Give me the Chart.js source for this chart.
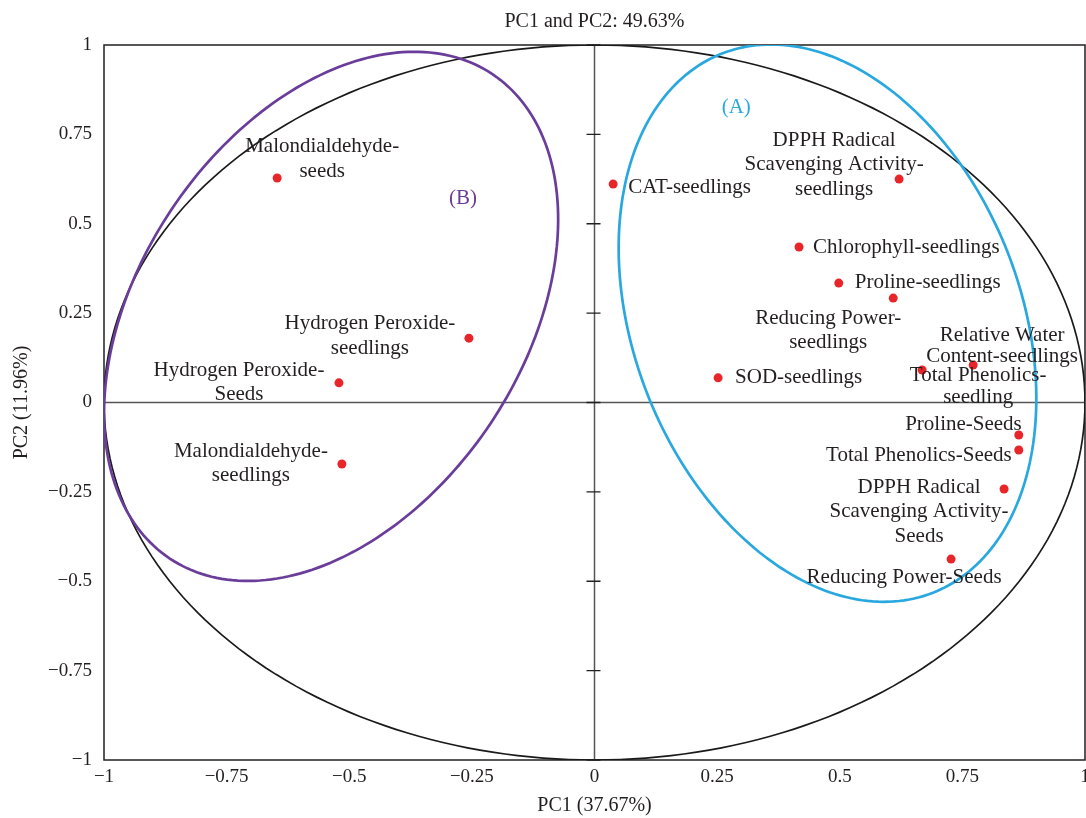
<!DOCTYPE html>
<html>
<head>
<meta charset="utf-8">
<title>PCA loading plot</title>
<script src="https://cdn.jsdelivr.net/npm/chart.js@4.4.1/dist/chart.umd.min.js"></script>
<style>
  html, body { margin: 0; padding: 0; background: #fff; }
</style>
</head>
<body>
<canvas id="pcaChart" width="1086" height="818"></canvas>
<script>
// variable names (one entry per text line)
const variableNames = [
  ['Malondialdehyde-', 'seeds'],
  ['CAT-seedlings'],
  ['DPPH Radical', 'Scavenging Activity-', 'seedlings'],
  ['Chlorophyll-seedlings'],
  ['Proline-seedlings'],
  ['Reducing Power-', 'seedlings'],
  ['Relative Water', 'Content-seedlings'],
  ['Total Phenolics-', 'seedling'],
  ['SOD-seedlings'],
  ['Proline-Seeds'],
  ['Total Phenolics-Seeds'],
  ['DPPH Radical', 'Scavenging Activity-', 'Seeds'],
  ['Reducing Power-Seeds'],
  ['Hydrogen Peroxide-', 'seedlings'],
  ['Hydrogen Peroxide-', 'Seeds'],
  ['Malondialdehyde-', 'seedlings']
];
const pc1Loadings = [-0.647, 0.038, 0.621, 0.417, 0.498, 0.609, 0.772, 0.668, 0.252, 0.865, 0.865, 0.835, 0.727, -0.256, -0.521, -0.515];
const pc2Loadings = [0.628, 0.611, 0.625, 0.435, 0.334, 0.292, 0.105, 0.091, 0.069, -0.091, -0.133, -0.242, -0.438, 0.180, 0.055, -0.172];

const xTickLabels = ['\u22121', '\u22120.75', '\u22120.5', '\u22120.25', '0', '0.25', '0.5', '0.75', '1'];
const yTickLabels = ['\u22121', '\u22120.75', '\u22120.5', '\u22120.25', '0', '0.25', '0.5', '0.75', '1'];

const chartTitle = 'PC1 and PC2: 49.63%';

// correlation circle + group ellipses (data units, angle in degrees)
const ellipseCenterX = [0, 0.475, -0.537];
const ellipseCenterY = [0, 0.222, 0.241];
const ellipseSemiMajor = [1, 0.791, 0.768];
const ellipseSemiMinor = [1, 0.404, 0.415];
const ellipseAngle = [0, 101.4, 71.5];

const groupLabels = ['(A)', '(B)'];
const groupLabelX = [0.289, -0.268];
const groupLabelY = [0.824, 0.572];

// ---- styling ----
const FONT = "'Liberation Serif', 'DejaVu Serif', serif";
const TEXT_COLOR = '#231f20';
const ellipseColors = ['#1a1a1a', '#29a8e0', '#6a3d9a'];
const ellipseWidths = [1.7, 2.7, 2.7];
const groupColors = ['#29a8e0', '#6a3d9a'];

// label placement relative to the point, in px (dy = centre of first line)
const labelLayout = [
  { dx: 45, dy: -32, align: 'center', lh: 25 },
  { dx: 15, dy: 3, align: 'left' },
  { dx: -65, dy: -39, align: 'center', lh: 24.5 },
  { dx: 14, dy: 0, align: 'left' },
  { dx: 16, dy: -1, align: 'left' },
  { dx: -65, dy: 20, align: 'center', lh: 24 },
  { dx: 29, dy: -29, align: 'center', lh: 21 },
  { dx: 56, dy: 6, align: 'center', lh: 22 },
  { dx: 17, dy: 0, align: 'left' },
  { dx: 3, dy: -11, align: 'right' },
  { dx: -7, dy: 5, align: 'right' },
  { dx: -85, dy: -2, align: 'center', lh: 24.5 },
  { dx: -47, dy: 18, align: 'center' },
  { dx: -99, dy: -15, align: 'center', lh: 25 },
  { dx: -100, dy: -12, align: 'center', lh: 24 },
  { dx: -91, dy: -13, align: 'center', lh: 24 }
];

const points = pc1Loadings.map((x, i) => ({ x: x, y: pc2Loadings[i] }));

// frame, zero axes, circle/ellipses and text labels
const pcaOverlay = {
  id: 'pcaOverlay',
  beforeDatasetsDraw(chart) {
    const { ctx, chartArea: a, scales: { x, y } } = chart;
    ctx.save();

    // title, centred over the plot area
    ctx.font = '20px ' + FONT;
    ctx.fillStyle = TEXT_COLOR;
    ctx.textAlign = 'center';
    ctx.textBaseline = 'middle';
    ctx.fillText(chartTitle, (a.left + a.right) / 2, 22);

    // frame
    ctx.strokeStyle = '#231f20';
    ctx.lineWidth = 1.5;
    ctx.strokeRect(a.left, a.top, a.right - a.left, a.bottom - a.top);

    // zero lines
    const x0 = x.getPixelForValue(0);
    const y0 = y.getPixelForValue(0);
    ctx.strokeStyle = '#555';
    ctx.lineWidth = 1.5;
    ctx.beginPath();
    ctx.moveTo(a.left, y0); ctx.lineTo(a.right, y0);
    ctx.moveTo(x0, a.top); ctx.lineTo(x0, a.bottom);
    ctx.stroke();

    // small ticks on the vertical zero line
    ctx.strokeStyle = '#231f20';
    ctx.lineWidth = 1.3;
    ctx.beginPath();
    y.ticks.forEach((t) => {
      const py = y.getPixelForValue(t.value);
      ctx.moveTo(x0 - 8, py); ctx.lineTo(x0 + 6, py);
    });
    ctx.stroke();

    // ellipses
    ctx.beginPath();
    ctx.rect(a.left, a.top, a.right - a.left, a.bottom - a.top);
    ctx.clip();
    ellipseCenterX.forEach((cx, k) => {
      const th = ellipseAngle[k] * Math.PI / 180;
      const ea = ellipseSemiMajor[k], eb = ellipseSemiMinor[k];
      const cy = ellipseCenterY[k];
      ctx.beginPath();
      const n = 240;
      for (let j = 0; j <= n; j++) {
        const t = (j / n) * Math.PI * 2;
        const dx = ea * Math.cos(th) * Math.cos(t) - eb * Math.sin(th) * Math.sin(t);
        const dy = ea * Math.sin(th) * Math.cos(t) + eb * Math.cos(th) * Math.sin(t);
        const px = x.getPixelForValue(cx + dx);
        const py = y.getPixelForValue(cy + dy);
        if (j === 0) ctx.moveTo(px, py); else ctx.lineTo(px, py);
      }
      ctx.closePath();
      ctx.strokeStyle = ellipseColors[k];
      ctx.lineWidth = ellipseWidths[k];
      ctx.stroke();
    });
    ctx.restore();
  },
  afterDatasetsDraw(chart) {
    const { ctx, scales: { x, y } } = chart;
    const meta = chart.getDatasetMeta(0);
    ctx.save();
    ctx.font = '21px ' + FONT;
    ctx.fillStyle = TEXT_COLOR;
    ctx.textBaseline = 'middle';
    meta.data.forEach((pt, i) => {
      const lay = labelLayout[i];
      ctx.textAlign = lay.align;
      const lh = lay.lh || 24;
      variableNames[i].forEach((line, j) => {
        ctx.fillText(line, pt.x + lay.dx, pt.y + lay.dy + j * lh);
      });
    });

    // group tags
    ctx.textAlign = 'center';
    groupLabels.forEach((g, i) => {
      ctx.fillStyle = groupColors[i];
      ctx.fillText(g, x.getPixelForValue(groupLabelX[i]), y.getPixelForValue(groupLabelY[i]));
    });
    ctx.restore();
  }
};

const axisTitleFont = { family: FONT, size: 20 };
const tickFont = { family: FONT, size: 19 };

new Chart(document.getElementById('pcaChart'), {
  type: 'scatter',
  data: {
    datasets: [{
      data: points,
      pointRadius: 4.5,
      pointHoverRadius: 4.5,
      pointBackgroundColor: '#e8262a',
      pointBorderWidth: 0
    }]
  },
  options: {
    responsive: false,
    animation: false,
    devicePixelRatio: 1,
    layout: { autoPadding: false, padding: { left: 0, right: 1, top: 45, bottom: 0 } },
    plugins: {
      legend: { display: false },
      tooltip: { enabled: false },
      title: { display: false }
    },
    scales: {
      x: {
        type: 'linear',
        min: -1,
        max: 1,
        afterFit: (scale) => {
          // end labels may hang over the plot edges
          scale.height = 58;
          scale.paddingLeft = 0;
          scale.paddingRight = 0;
        },
        grid: { display: false, drawTicks: false },
        border: { display: false },
        ticks: {
          stepSize: 0.25,
          autoSkip: false,
          maxRotation: 0,
          padding: 6,
          color: TEXT_COLOR,
          font: tickFont,
          callback: (v, i) => xTickLabels[i]
        },
        title: {
          display: true,
          text: 'PC1 (37.67%)',
          color: TEXT_COLOR,
          font: axisTitleFont,
          padding: { top: 0, bottom: 0 }
        }
      },
      y: {
        type: 'linear',
        min: -1,
        max: 1,
        afterFit: (scale) => {
          scale.width = 104;
          scale.paddingTop = 0;
          scale.paddingBottom = 0;
        },
        grid: { display: false, drawTicks: false },
        border: { display: false },
        ticks: {
          stepSize: 0.25,
          autoSkip: false,
          padding: 12,
          color: TEXT_COLOR,
          font: tickFont,
          callback: (v, i) => yTickLabels[i]
        },
        title: {
          display: true,
          text: 'PC2 (11.96%)',
          color: TEXT_COLOR,
          font: axisTitleFont,
          padding: { top: 10, bottom: 0 }
        }
      }
    }
  },
  plugins: [pcaOverlay]
});
</script>
</body>
</html>
